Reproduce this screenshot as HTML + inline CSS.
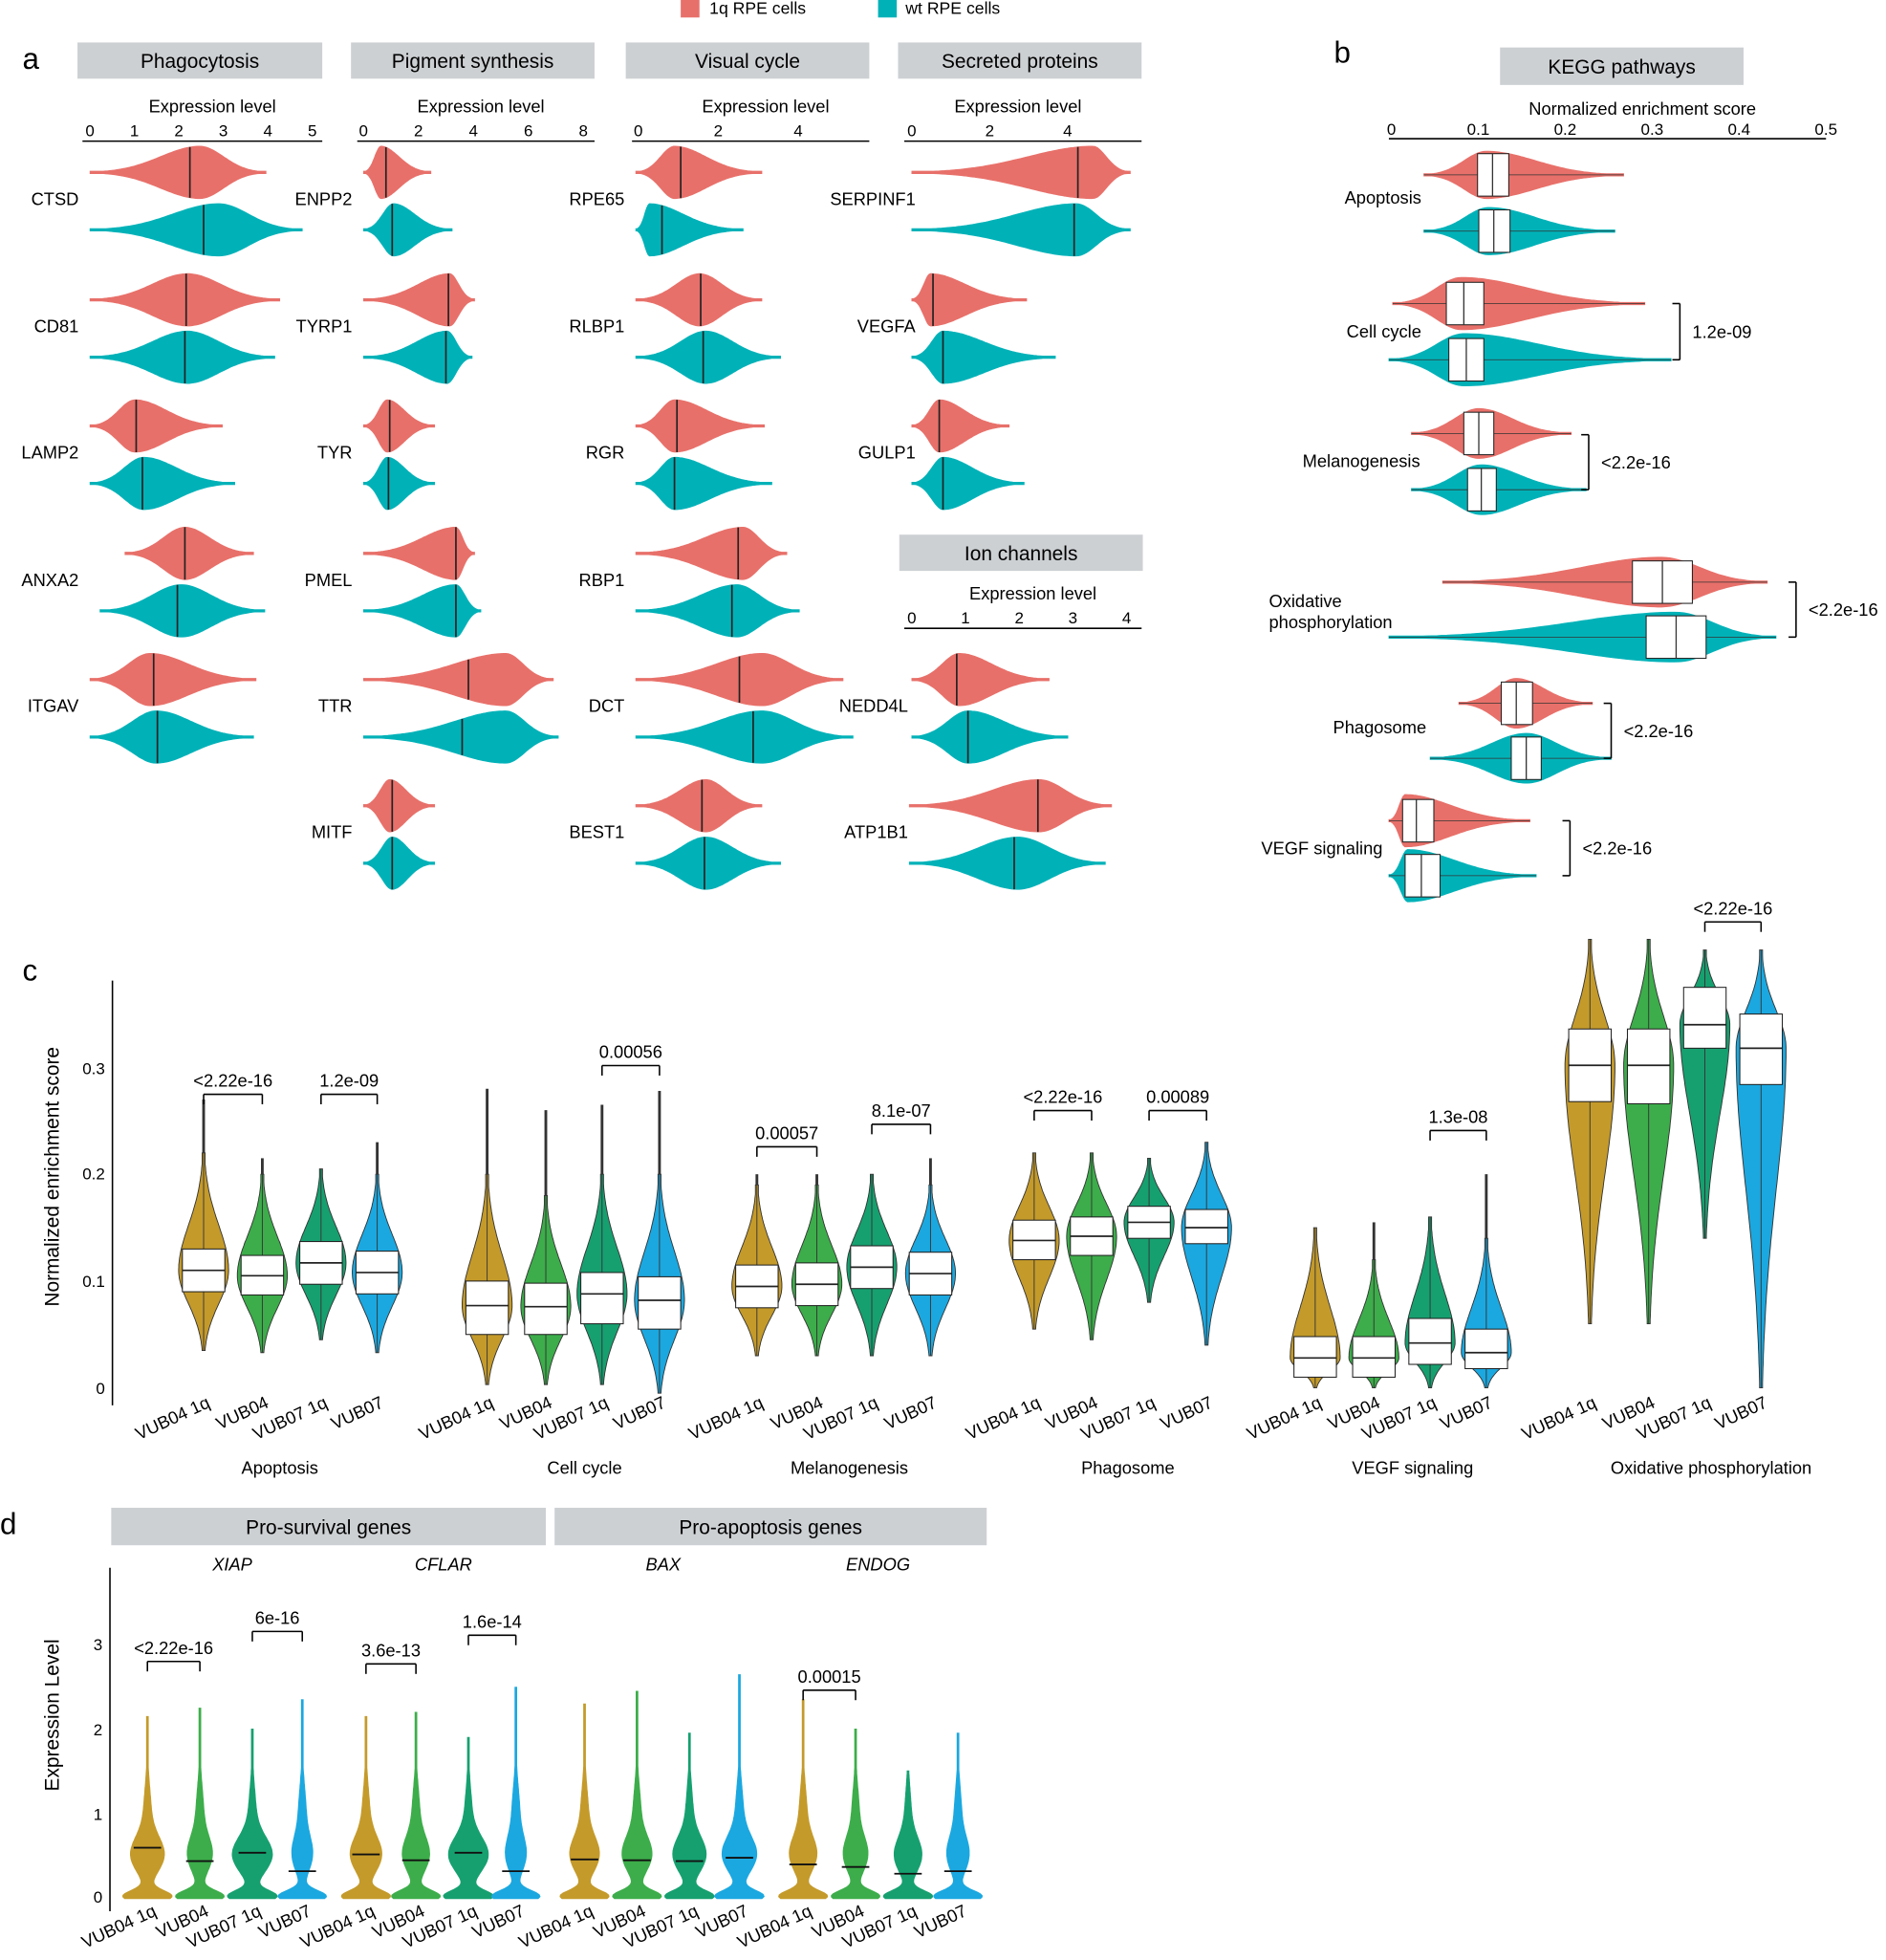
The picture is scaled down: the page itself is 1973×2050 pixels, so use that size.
<!DOCTYPE html>
<html><head><meta charset="utf-8">
<style>
html,body{margin:0;padding:0;background:#fff;}
svg{display:block;font-family:"Liberation Sans",Arial,sans-serif;}
</style></head>
<body>
<svg id="s" xmlns="http://www.w3.org/2000/svg" width="1973" height="2050" viewBox="0 0 1510 1569">
<rect width="1510" height="1569" fill="#fff"/>
</svg>
<script>
var S=document.getElementById('s'),out='';
var RED='#E8706A',TEAL='#00B2B8';
function T(x,y,t,sz,anc,ex){out+='<text x="'+x+'" y="'+y+'" font-size="'+(sz||14)+'" text-anchor="'+(anc||'start')+'" '+(ex||'')+'>'+t+'</text>';}
function L(x1,y1,x2,y2,w,c){out+='<line x1="'+x1+'" y1="'+y1+'" x2="'+x2+'" y2="'+y2+'" stroke="'+(c||'#000')+'" stroke-width="'+(w||1)+'"/>';}
function R(x,y,w,h,f,st){out+='<rect x="'+x+'" y="'+y+'" width="'+w+'" height="'+h+'" fill="'+f+'"'+(st?' stroke="#222" stroke-width="0.8"':'')+'/>';}
function hprof(x,x0,x1,xm,H){var s=x<xm?(xm-x0)/2.8:(x1-xm)/2.8;if(s<=0)s=1;return Math.max(1,H*Math.exp(-0.5*Math.pow((x-xm)/s,2)));}
function hviol(x0,x1,xm,cy,H,col,med,box){
 var top=[],bot=[],n=80;
 for(var i=0;i<=n;i++){var x=x0+(x1-x0)*i/n,h=hprof(x,x0,x1,xm,H);top.push(x.toFixed(1)+','+(cy-h).toFixed(1));bot.unshift(x.toFixed(1)+','+(cy+h).toFixed(1));}
 out+='<polygon points="'+top.join(' ')+' '+bot.join(' ')+'" fill="'+col+'" stroke="'+col+'" stroke-width="0.5"/>';
 if(box){L(x0,cy,x1,cy,0.6,'#333');R(box[0],cy-17,box[1]-box[0],34,'#fff',1);L(med,cy-17,med,cy+17,1,'#333');}
 else if(med){var h=hprof(med,x0,x1,xm,H);L(med,cy-h,med,cy+h,1.3,'#222');}
}
R(545,0,15,14,RED);T(568,11,'1q RPE cells',13.5);R(703,0,15,14,TEAL);T(725,11,'wt RPE cells',13.5);
T(18,55,'a',24);
function hdr(x,y,w,h,t){R(x,y,w,h,'#CDD0D3');T(x+w/2,y+h/2+6,t,16,'middle');}
hdr(62,34,196,29,'Phagocytosis');hdr(281,34,195,29,'Pigment synthesis');hdr(501,34,195,29,'Visual cycle');hdr(719,34,195,29,'Secreted proteins');
function axis(x0,x1,y,z,u,labs,title,tx){L(x0,y,x1,y,1.2);T(tx,y-23,title,14,'middle');labs.forEach(function(l,i){T(z+u*l,y-4,l,13,'middle');});}
axis(66,258,113,72,35.6,[0,1,2,3,4,5],'Expression level',170);
axis(286,476,113,291,22,[0,2,4,6,8],'Expression level',385);
axis(506,696,113,511,32,[0,2,4],'Expression level',613);
axis(724,914,113,730,31.2,[0,2,4],'Expression level',815);
hdr(720,428,195,29,'Ion channels');
axis(724,914,503,730,43,[0,1,2,3,4],'Expression level',827);
var ys=[159,261,362,464,565,666];
function genes(lx,names,data){names.forEach(function(n,i){var y=ys[i];if(!n)return;T(lx,y+5,n,14,'end');var d=data[i];hviol(d[0],d[1],d[2],y-21,21,RED,d[3]);hviol(d[4],d[5],d[6],y+25,21,TEAL,d[7]);});}
genes(63,['CTSD','CD81','LAMP2','ANXA2','ITGAV'],[[72,213,160,152,72,242,175,163],[72,224,150,149,72,220,150,148],[72,178,108,109,72,188,115,114],[100,203,148,148,80,212,145,142],[72,205,120,123,72,203,125,126]]);
genes(282,['ENPP2','TYRP1','TYR','PMEL','TTR','MITF'],[[291,345,305,309,291,362,315,314],[291,380,360,359,291,378,358,357],[291,348,310,312,291,348,310,311],[291,380,365,365,291,385,365,365],[291,443,405,375,291,447,405,370],[291,348,312,314,291,348,314,314]]);
genes(500,['RPE65','RLBP1','RGR','RBP1','DCT','BEST1'],[[509,610,540,545,509,595,520,530],[509,610,560,561,509,625,565,563],[509,612,540,542,509,618,540,540],[509,630,595,591,509,640,590,586],[509,675,610,592,509,683,610,603],[509,610,565,562,509,625,565,564]]);
genes(733,['SERPINF1','VEGFA','GULP1'],[[730,905,875,863,730,905,862,860],[730,822,745,747,730,845,755,755],[730,808,752,752,730,820,755,755]]);
genes(727,['','','','','NEDD4L','ATP1B1'],[0,0,0,0,[730,840,768,766,730,855,775,775],[728,890,832,831,728,885,815,812]]);
T(1068,50,'b',24);hdr(1201,38,195,30,'KEGG pathways');
L(1112,111,1462,111,1.2);T(1315,92,'Normalized enrichment score',14,'middle');
['0','0.1','0.2','0.3','0.4','0.5'].forEach(function(l,i){T(1114+i*69.6,108,l,13,'middle');});
function brk(x,y1,y2,t){L(x-6,y1,x,y1,1.2);L(x,y1,x,y2,1.2);L(x-6,y2,x,y2,1.2);T(x+10,(y1+y2)/2+5,t,14);}
T(1138,163,'Apoptosis',14,'end');
hviol(1140,1300,1190,140,19,RED,1195,[1183,1208]);hviol(1140,1293,1192,185,19,TEAL,1196,[1184,1209]);
T(1138,270,'Cell cycle',14,'end');
hviol(1115,1317,1170,243,21,RED,1172,[1158,1188]);hviol(1112,1338,1172,288,21,TEAL,1174,[1160,1188]);brk(1345,243,288,'1.2e-09');
T(1137,374,'Melanogenesis',14,'end');
hviol(1130,1258,1184,347,20,RED,1184,[1172,1196]);hviol(1130,1270,1186,392,20,TEAL,1186,[1175,1198]);brk(1272,348,392,'&lt;2.2e-16');
T(1016,486,'Oxidative',14);T(1016,503,'phosphorylation',14);
hviol(1155,1415,1330,466,20,RED,1331,[1307,1355]);hviol(1112,1422,1342,510,20,TEAL,1342,[1318,1366]);brk(1438,466,510,'&lt;2.2e-16');
T(1142,587,'Phagosome',14,'end');
hviol(1168,1275,1214,563,20,RED,1214,[1202,1227]);hviol(1145,1290,1222,607,20,TEAL,1222,[1210,1234]);brk(1290,563,607,'&lt;2.2e-16');
T(1107,684,'VEGF signaling',14,'end');
hviol(1112,1225,1125,657,21,RED,1134,[1123,1148]);hviol(1112,1230,1127,701,21,TEAL,1138,[1125,1153]);brk(1257,657,701,'&lt;2.2e-16');
T(18,785,'c',24);
L(90,785,90,1125,1.2);
[[0.3,855],[0.2,939],[0.1,1025],[0,1111]].forEach(function(t){T(84,t[1]+5,t[0],13,'end');});
T(0,0,'Normalized enrichment score',16,'middle','transform="translate(47,942) rotate(-90)"');
var C4=['#C49A2A','#3CAD4A','#16A070','#1BA8E0'];
function vy(v){return 1111-v*855;}
function vviol(cx,med,q1,q3,lo,hi,W,col,ptop){
 var left=[],right=[],n=90,sl=(med-lo)/2.4,sh=(hi-med)/2.6;
 for(var i=0;i<=n;i++){var v=lo+(hi-lo)*i/n,s=v<med?sl:sh,w=Math.max(1.2,W*Math.exp(-0.5*Math.pow((v-med)/s,2)));left.push((cx-w).toFixed(1)+','+vy(v).toFixed(1));right.unshift((cx+w).toFixed(1)+','+vy(v).toFixed(1));}
 out+='<polygon points="'+left.join(' ')+' '+right.join(' ')+'" fill="'+col+'" stroke="#333" stroke-width="0.7"/>';
 if(ptop){L(cx,vy(hi),cx,vy(ptop),2.2,'#333');}
 L(cx,vy(hi),cx,vy(lo),0.7,'#333');
 R(cx-17,vy(q3),34,vy(q1)-vy(q3),'#fff',1);L(cx-17,vy(med),cx+17,vy(med),1.3,'#222');
}
function cb(x1,x2,y,t){L(x1,y,x2,y,1.2);L(x1,y,x1,y+8,1.2);L(x2,y,x2,y+8,1.2);T((x1+x2)/2,y-6,t,14,'middle');}
var groups=[
 {xs:[163,210,257,302],name:'Apoptosis',lx:224,d:[[0.11,0.09,0.13,0.035,0.22,0.27],[0.105,0.087,0.124,0.033,0.2,0.215],[0.117,0.097,0.137,0.045,0.205,0],[0.108,0.088,0.128,0.033,0.2,0.23]]},
 {xs:[390,437,482,528],name:'Cell cycle',lx:468,d:[[0.077,0.05,0.1,0.003,0.2,0.28],[0.076,0.05,0.098,0.003,0.18,0.26],[0.088,0.06,0.108,0.003,0.2,0.265],[0.082,0.055,0.104,-0.005,0.2,0.278]]},
 {xs:[606,654,698,745],name:'Melanogenesis',lx:680,d:[[0.095,0.075,0.115,0.03,0.19,0.2],[0.097,0.077,0.117,0.03,0.19,0.2],[0.113,0.093,0.133,0.03,0.2,0],[0.107,0.087,0.127,0.03,0.19,0.215]]},
 {xs:[828,874,920,966],name:'Phagosome',lx:903,d:[[0.138,0.12,0.157,0.055,0.22,0],[0.142,0.124,0.16,0.045,0.22,0],[0.155,0.14,0.17,0.08,0.215,0],[0.15,0.135,0.167,0.04,0.23,0]]},
 {xs:[1053,1100,1145,1190],name:'VEGF signaling',lx:1131,d:[[0.028,0.01,0.048,0.0,0.15,0],[0.028,0.01,0.048,0.0,0.12,0.155],[0.042,0.022,0.065,0.0,0.16,0],[0.033,0.018,0.055,0.0,0.14,0.2]]},
 {xs:[1273,1320,1365,1410],name:'Oxidative phosphorylation',lx:1370,d:[[0.302,0.268,0.336,0.06,0.42,0],[0.302,0.266,0.336,0.06,0.42,0],[0.34,0.318,0.375,0.14,0.41,0],[0.318,0.284,0.35,0.0,0.41,0]]}
];
var xl=['VUB04 1q','VUB04','VUB07 1q','VUB07'];
groups.forEach(function(g){g.d.forEach(function(d,i){vviol(g.xs[i],d[0],d[1],d[2],d[3],d[4],20,C4[i],d[5]);T(0,0,xl[i],14,'end','transform="translate('+(g.xs[i]+6)+',1126) rotate(-25)"');});T(g.lx,1180,g.name,14,'middle');});
cb(163,210,876,'&lt;2.22e-16');cb(257,302,876,'1.2e-09');cb(482,528,853,'0.00056');cb(606,654,918,'0.00057');cb(698,745,900,'8.1e-07');cb(828,874,889,'&lt;2.22e-16');cb(920,966,889,'0.00089');cb(1145,1190,905,'1.3e-08');cb(1365,1410,738,'&lt;2.22e-16');
T(0,1228,'d',24);
hdr(89,1207,348,30,'Pro-survival genes');hdr(444,1207,346,30,'Pro-apoptosis genes');
[['XIAP',186],['CFLAR',355],['BAX',531],['ENDOG',703]].forEach(function(g){T(g[1],1257,g[0],14,'middle','font-style="italic"');});
L(88,1255,88,1530,1.2);
[[3,1316],[2,1384],[1,1452],[0,1518]].forEach(function(t){T(82,t[1]+5,t[0],13,'end');});
T(0,0,'Expression Level',16,'middle','transform="translate(47,1373) rotate(-90)"');
function dy(v){return 1518-v*67;}
function dviol(cx,med,hi,W,col,b){
 var left=[],right=[],n=100;
 for(var i=0;i<=n;i++){var v=-0.03+(hi+0.03)*i/n;var w=W*(0.95*Math.exp(-Math.pow(v/0.1,2))+b*Math.exp(-Math.pow((v-0.5)/0.3,2))+0.2*Math.exp(-Math.pow((v-1)/0.5,2)));w=Math.max(0.8,w*(1-0.5*v/hi));left.push((cx-w).toFixed(1)+','+dy(v).toFixed(1));right.unshift((cx+w).toFixed(1)+','+dy(v).toFixed(1));}
 out+='<polygon points="'+left.join(' ')+' '+right.join(' ')+'" fill="'+col+'" stroke="'+col+'" stroke-width="0.5"/>';
 L(cx-11,dy(med),cx+11,dy(med),1.4,'#111');
}
var dg=[{xs:[118,160,202,242],d:[[0.58,2.15,0.7],[0.42,2.25,0.5],[0.52,2.0,0.85],[0.3,2.35,0.4]]},
{xs:[293,333,375,413],d:[[0.5,2.15,0.65],[0.43,2.2,0.55],[0.52,1.9,0.85],[0.3,2.5,0.4]]},
{xs:[468,510,552,592],d:[[0.44,2.3,0.6],[0.43,2.45,0.6],[0.42,1.95,0.7],[0.46,2.65,0.7]]},
{xs:[643,685,727,767],d:[[0.38,2.35,0.55],[0.35,2.0,0.5],[0.27,1.5,0.6],[0.3,1.95,0.45]]}];
dg.forEach(function(g){g.d.forEach(function(d,i){dviol(g.xs[i],d[0],d[1],20,C4[i],d[2]);T(0,0,xl[i],14,'end','transform="translate('+(g.xs[i]+8)+',1533) rotate(-25)"');});});
cb(118,160,1330,'&lt;2.22e-16');cb(202,242,1306,'6e-16');cb(293,333,1332,'3.6e-13');cb(375,413,1309,'1.6e-14');cb(643,685,1353,'0.00015');
S.insertAdjacentHTML('beforeend',out);
</script>
</body></html>
